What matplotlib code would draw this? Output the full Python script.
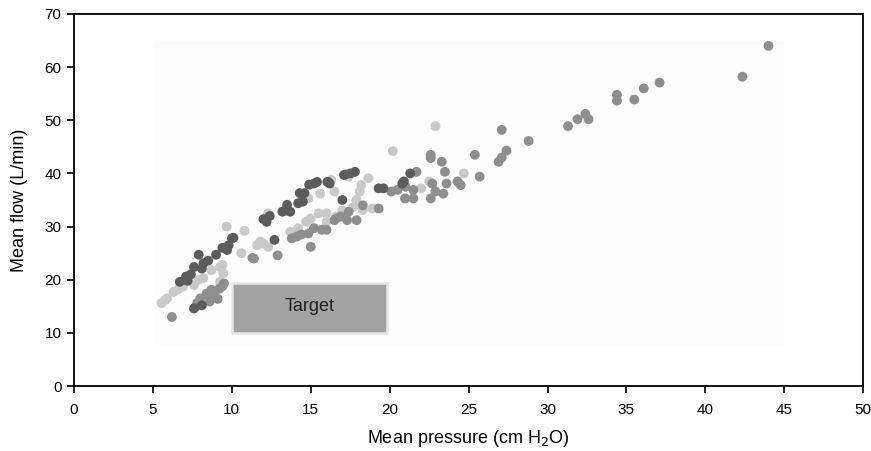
import matplotlib
matplotlib.use("Agg")
import matplotlib.pyplot as plt
from matplotlib.patches import Rectangle

plt.rcParams['font.family'] = ['Liberation Sans', 'DejaVu Sans']

dark_pts = [(7.9,24.7),(9.0,24.7),(8.2,23.1),(7.6,22.4),(8.1,22.1),(7.1,20.6),(6.7,19.6),(7.2,19.8),
            (7.6,14.6),(9.7,25.6),(9.8,26.5),(10.0,27.8),(10.1,27.9),(12.2,30.9),(12.0,31.4),(12.7,27.5),
            (13.2,32.8),(13.4,33.0),(13.7,32.8),(13.5,34.1),(14.2,34.4),(14.3,36.3),(14.5,34.7),(14.6,36.3),
            (14.9,37.9),(15.2,38.1),(16.1,38.4),(16.2,38.1),(17.1,39.7),(17.2,39.8),(17.8,40.3),(17.0,35.0),
            (16.05,38.4),(19.3,37.2),(19.6,37.2),(20.8,38.1),(20.9,38.5),(21.3,40.0),(8.1,15.2),
            (7.4,21.0),(8.5,23.6),(9.4,26.0),(12.4,32.0),(15.4,38.4),(17.5,40.0)]
medium_pts = [(6.2,13.0),(7.7,14.9),(7.8,15.6),(8.0,16.5),(8.5,17.1),(8.6,15.9),(8.7,18.1),(8.4,17.4),
              (8.8,16.8),(9.1,16.4),(9.5,19.3),(9.4,18.8),(11.3,24.1),(11.4,24.0),(12.9,24.6),(13.8,27.8),
              (14.1,28.1),(15.0,26.2),(14.85,28.7),(15.2,29.7),(15.7,29.4),(16.0,29.4),(16.5,31.2),(16.9,31.9),
              (17.3,31.2),(17.9,31.2),(17.4,32.8),(19.3,33.4),(16.6,31.5),(20.1,36.6),(20.5,36.9),(21.5,36.9),
              (20.97,35.3),(21.5,35.3),(22.6,35.3),(22.9,36.6),(23.4,36.2),(22.7,38.1),(23.6,38.1),(24.3,38.5),
              (24.5,37.8),(23.5,40.3),(21.7,40.3),(23.3,42.2),(22.6,43.5),(22.6,42.9),(25.4,43.5),(26.9,42.2),
              (25.7,39.4),(27.1,43.0),(27.4,44.3),(27.1,48.2),(28.8,46.1),(31.3,48.9),(31.9,50.2),(32.4,51.2),
              (32.6,50.2),(34.4,54.8),(34.4,53.7),(35.5,53.9),(36.1,56.0),(37.1,57.1),(42.35,58.2),(44.0,64.0),
              (8.9,17.8),(9.2,18.3),(14.4,28.5),(18.3,34.0),(21.0,37.5)]
light_pts = [(9.67,30.0),(10.8,29.2),(11.6,26.5),(12.0,26.8),(10.6,25.0),(8.7,21.8),(9.25,22.4),(9.4,22.8),
             (9.46,21.2),(8.2,20.3),(7.6,19.0),(6.9,18.7),(9.25,19.6),(6.3,17.7),(5.9,16.5),(5.55,15.6),
             (5.8,16.2),(12.3,32.5),(14.85,35.3),(15.6,36.2),(15.5,32.5),(14.7,30.9),(14.2,29.7),(13.7,29.0),
             (11.8,27.2),(12.3,26.2),(16.0,32.5),(16.5,36.6),(16.3,38.8),(17.4,39.4),(18.65,39.1),(18.2,37.8),
             (18.1,36.6),(17.9,35.0),(17.7,33.7),(18.3,33.1),(18.9,33.4),(16.6,31.9),(20.2,44.2),(22.9,48.9),
             (22.5,38.5),(22.0,37.2),(24.7,40.0),(16.0,30.9),(6.6,18.2),(7.9,20.0),(15.0,31.5),(17.0,33.0)]

x_ticks = [0, 5, 10, 15, 20, 25, 30, 35, 40, 45, 50]
y_ticks = [0, 10, 20, 30, 40, 50, 60, 70]
target = (10, 10, 9.8, 9.4)  # x, y, width, height

fig = plt.figure(figsize=(8.71, 4.51), dpi=100)
ax = fig.add_axes([0.085, 0.144, 0.906, 0.825])

ax.add_patch(Rectangle((5.1, 7.7), 39.9, 57.3, facecolor='#fcfcfc', edgecolor='none', zorder=0))

for pts, col in [(light_pts, '#c9c9c9'), (medium_pts, '#8e8e8e'), (dark_pts, '#5c5c5c')]:
    xs = [p[0] for p in pts]
    ys = [p[1] for p in pts]
    ax.scatter(xs, ys, s=50, color=col, edgecolors='none', zorder=2)

ax.add_patch(Rectangle(target[:2], target[2], target[3], facecolor='#a2a2a2',
                       edgecolor='#e6e6e6', linewidth=1.8, zorder=3))
ax.text(target[0] + target[2] / 2, target[1] + target[3] / 2 + 0.3, 'Target',
        ha='center', va='center', fontsize=13, color='#222222', zorder=4)

ax.set_xlim(0, 50)
ax.set_ylim(0, 70)
ax.set_xticks(x_ticks)
ax.set_yticks(y_ticks)
ax.tick_params(labelsize=11, direction='out', length=5, width=1.2)
ax.tick_params(axis='x', pad=7)
ax.tick_params(axis='y', pad=4)
for s in ax.spines.values():
    s.set_linewidth(1.3)
ax.set_xlabel('Mean pressure (cm H$_2$O)', fontsize=13, labelpad=8)
ax.set_ylabel('Mean flow (L/min)', fontsize=13, labelpad=12)

fig.savefig('out.png', dpi=100)
